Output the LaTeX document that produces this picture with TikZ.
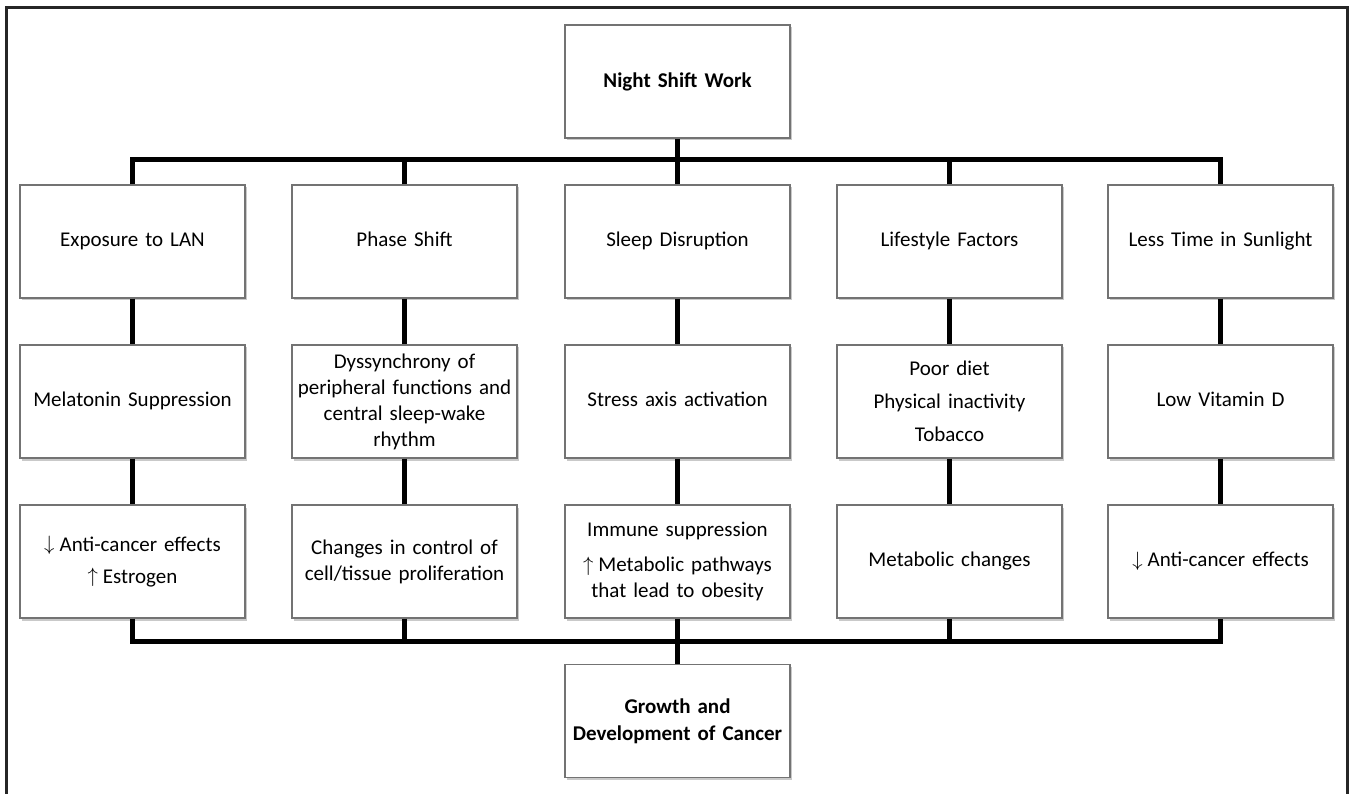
\documentclass[tikz,border=0pt]{standalone}
\usepackage{fontspec}
\setmainfont{Carlito}[WordSpace=0.7]
\usetikzlibrary{shadows}
\tikzset{
  box/.style={draw=black!55, line width=1.3pt, fill=white,
    minimum width=225pt, minimum height=113pt, text width=222pt,
    align=center, inner sep=0pt, font=\fontsize{21}{26}\selectfont,
    drop shadow={shadow xshift=1.5pt, shadow yshift=-2.5pt, opacity=0.35, fill=black!60}},
  conn/.style={line width=5pt, black},
  framebox/.style={draw=black!85, line width=3pt}
}
\newcommand{\dn}{\raisebox{0.5pt}{$\downarrow$}\kern5pt}
\newcommand{\up}{\raisebox{0.5pt}{$\uparrow$}\kern5pt}
\begin{document}
\begin{tikzpicture}[x=1pt,y=-1pt]
\useasboundingbox (0,0) rectangle (1353,794);
\fill[white] (0,0) rectangle (1353,794);
\draw[framebox] (6,8) rectangle (1347,820);

% top and bottom
\node[box, font=\fontsize{21}{26}\selectfont\bfseries] (top) at (677.5,81.5) {Night Shift Work};
\node[box, font=\fontsize{21}{27}\selectfont\bfseries] (bot) at (677.5,721) {Growth and\\Development of Cancer};

% row 1
\node[box] (a1) at (132.5,241.5) {\strut Exposure to LAN};
\node[box] (b1) at (404.5,241.5) {\strut Phase Shift};
\node[box] (c1) at (677.5,241.5) {\strut Sleep Disruption};
\node[box] (d1) at (949.5,241.5) {\strut Lifestyle Factors};
\node[box] (e1) at (1220.5,241.5) {\strut Less Time in Sunlight};

% row 2
\node[box] (a2) at (132.5,401.5) {\strut Melatonin Suppression};
\node[box] (b2) at (404.5,401.5) {Dyssynchrony of\\peripheral functions and\\central sleep-wake\\rhythm};
\node[box] (c2) at (677.5,401.5) {\strut Stress axis activation};
\node[box] (d2) at (949.5,401.5) {Poor diet\\[7pt]Physical inactivity\\[7pt]Tobacco};
\node[box] (e2) at (1220.5,401.5) {\strut Low Vitamin D};

% row 3
\node[box] (a3) at (132.5,561.5) {\dn Anti-cancer effects\\[6pt]\up Estrogen};
\node[box] (b3) at (404.5,561.5) {Changes in control of\\cell/tissue proliferation};
\node[box] (c3) at (677.5,561.5) {Immune suppression\\[9pt]\up Metabolic pathways\\that lead to obesity};
\node[box] (d3) at (949.5,561.5) {\strut Metabolic changes};
\node[box] (e3) at (1220.5,561.5) {\strut\dn Anti-cancer effects};

% top bus
\coordinate (bt) at (677.5,160);
\draw[conn] (top.south) -- (bt);
\draw[conn] (a1.north) |- (bt) -| (e1.north);
\draw[conn] (b1.north) -- (b1.north |- bt);
\draw[conn] (c1.north) -- (bt);
\draw[conn] (d1.north) -- (d1.north |- bt);

% verticals between rows
\foreach \c in {a,b,c,d,e}{
  \draw[conn] (\c1.south) -- (\c2.north);
  \draw[conn] (\c2.south) -- (\c3.north);
}

% bottom bus
\coordinate (bb) at (677.5,641);
\draw[conn] (a3.south) |- (bb) -| (e3.south);
\draw[conn] (b3.south) -- (b3.south |- bb);
\draw[conn] (d3.south) -- (d3.south |- bb);
\draw[conn] (c3.south) -- (bot.north);
\end{tikzpicture}
\end{document}
